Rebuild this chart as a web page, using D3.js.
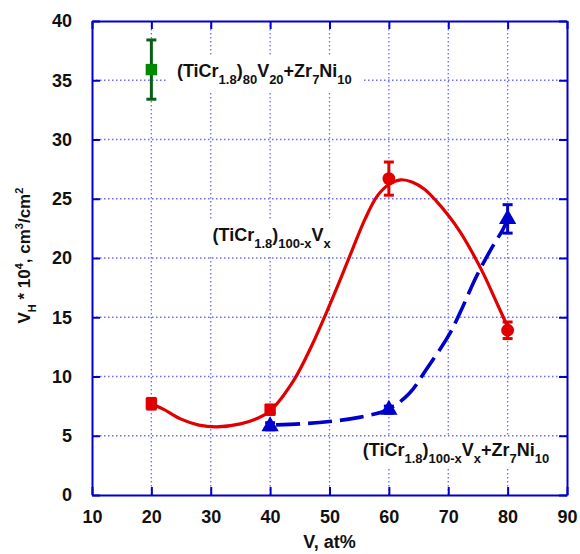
<!DOCTYPE html>
<html>
<head>
<meta charset="utf-8">
<script src="https://cdn.jsdelivr.net/npm/d3@7"></script>
<style>
  body { margin: 0; background: #fff; }
  svg text { font-family: "Liberation Sans", Arial, sans-serif; font-weight: bold; }
</style>
</head>
<body>
<div id="chart"></div>
<script>
// tick values
const xTicks = [10, 20, 30, 40, 50, 60, 70, 80, 90]
const yTicks = [0, 5, 10, 15, 20, 25, 30, 35, 40]

// measured points (value, +/- error)
const redX = [20, 40, 60, 80]
const redY = [7.7, 7.2, 26.7, 13.9]
const redErr = [0.45, 0.4, 1.4, 0.7]

const blueX = [40, 60, 80]
const blueY = [5.8, 7.2, 23.3]
const blueErr = [0.3, 0.3, 1.2]

const greenX = [20]
const greenY = [35.9]
const greenErr = [2.5]

// fitted curves
const redFitX = [20, 22, 25, 28, 31, 35, 38, 40, 44, 47, 50, 52, 54, 56, 58, 60, 62, 64, 66, 68, 70, 72, 74, 76, 78, 80]
const redFitY = [7.7, 7.25, 6.4, 5.9, 5.75, 6.0, 6.5, 7.1, 9.7, 12.6, 16.0, 18.4, 20.9, 23.3, 25.2, 26.2, 26.6, 26.4, 25.8, 24.8, 23.6, 22.2, 20.5, 18.6, 16.4, 14.2]
const blueFitX = [40, 45, 50, 55, 60, 63.5, 66.3, 70, 72, 74.7, 77.5, 79.2, 80]
const blueFitY = [5.9, 6.0, 6.2, 6.55, 7.25, 8.6, 10.6, 13.4, 15.4, 18.4, 21.0, 22.4, 23.3]

const W = 580, H = 554
const margin = {top: 21, right: 13, bottom: 59, left: 92}
const width = W - margin.left - margin.right
const height = H - margin.top - margin.bottom

const blue = "#0000cc", red = "#e00000", gridC = "#6a6aff"

const svg = d3.select("#chart").append("svg")
    .attr("width", W).attr("height", H)
  .append("g")
    .attr("transform", "translate(" + margin.left + "," + margin.top + ")")

const x = d3.scaleLinear().domain([10, 90]).range([0, width])
const y = d3.scaleLinear().domain([0, 40]).range([height, 0])

// dotted grid
const grid = svg.append("g")
grid.selectAll(".gx").data(xTicks.slice(1, -1)).enter().append("line")
  .attr("x1", d => x(d)).attr("x2", d => x(d)).attr("y1", 0).attr("y2", height)
grid.selectAll(".gy").data(yTicks.slice(1, -1)).enter().append("line")
  .attr("y1", d => y(d)).attr("y2", d => y(d)).attr("x1", 0).attr("x2", width)
grid.selectAll("line")
  .attr("stroke", gridC).attr("stroke-width", 1.3).attr("stroke-dasharray", "1.5,2.5")

// labels with white boxes
function label(tx, ty, parts, pad) {
  const g = svg.append("g")
  const t = g.append("text").attr("x", tx).attr("y", ty).attr("fill", "#111")
  let shift = 0
  parts.forEach(p => {
    const off = p[1] === "sub" ? 7 : 0
    t.append("tspan").attr("dy", off - shift)
      .attr("font-size", p[1] === "sub" ? 13 : 18)
      .text(p[0])
    shift = off
  })
  const bb = t.node().getBBox()
  g.insert("rect", "text")
    .attr("x", bb.x - pad[0]).attr("y", bb.y - pad[1])
    .attr("width", bb.width + pad[0] * 2).attr("height", bb.height + pad[1] * 2)
    .attr("fill", "#fff")
}

label(x(24.3), y(35.9) + 7,
  [["(TiCr"], ["1.8", "sub"], [")"], ["80", "sub"], ["V"], ["20", "sub"], ["+Zr"], ["7", "sub"], ["Ni"], ["10", "sub"]], [10, 5])
label(x(30.3), y(21.9) + 6,
  [["(TiCr"], ["1.8", "sub"], [")"], ["100-x", "sub"], ["V"], ["x", "sub"]], [6, 5])
label(x(55.6), y(3.8) + 6,
  [["(TiCr"], ["1.8", "sub"], [")"], ["100-x", "sub"], ["V"], ["x", "sub"], ["+Zr"], ["7", "sub"], ["Ni"], ["10", "sub"]], [10, 3])

// fitted curves
const line = d3.line().curve(d3.curveCatmullRom.alpha(0.5))
svg.append("path")
  .attr("d", line(redFitX.map((d, i) => [x(d), y(redFitY[i])])))
  .attr("fill", "none").attr("stroke", red).attr("stroke-width", 3.2)
svg.append("path")
  .attr("d", line(blueFitX.map((d, i) => [x(d), y(blueFitY[i])])))
  .attr("fill", "none").attr("stroke", blue).attr("stroke-width", 3.6)
  .attr("stroke-dasharray", "24,8").attr("stroke-dashoffset", -6)

// error bars + markers
function series(xs, ys, errs, color, barColor, shapeFn) {
  const g = svg.append("g")
  xs.forEach((xv, i) => {
    const cx = x(xv), lo = y(ys[i] - errs[i]), hi = y(ys[i] + errs[i])
    g.append("line").attr("x1", cx).attr("x2", cx).attr("y1", lo).attr("y2", hi)
      .attr("stroke", barColor).attr("stroke-width", 3)
    ;[lo, hi].forEach(yy => g.append("line")
      .attr("x1", cx - 5).attr("x2", cx + 5).attr("y1", yy).attr("y2", yy)
      .attr("stroke", barColor).attr("stroke-width", 3))
    g.append("path")
      .attr("d", d3.symbol().type(shapeFn(i)).size(130)())
      .attr("transform", "translate(" + cx + "," + y(ys[i]) + ")")
      .attr("fill", color)
  })
}
series(redX, redY, redErr, red, red, i => i < 2 ? d3.symbolSquare : d3.symbolCircle)
series(blueX, blueY, blueErr, blue, blue, () => d3.symbolTriangle)
series(greenX, greenY, greenErr, "#008a00", "#0b5e17", () => d3.symbolSquare)

// axes frame with inward ticks
function styleAxis(g) {
  g.select(".domain").attr("stroke", blue).attr("stroke-width", 2)
  g.selectAll(".tick line").attr("stroke", blue).attr("stroke-width", 2)
  g.selectAll(".tick text").attr("fill", "#111").attr("font-size", 18)
}
svg.append("g").attr("transform", "translate(0," + height + ")")
  .call(d3.axisBottom(x).tickValues(xTicks).tickSize(-8).tickSizeOuter(0).tickPadding(15))
  .call(styleAxis)
svg.append("g")
  .call(d3.axisTop(x).tickValues(xTicks).tickSize(-8).tickSizeOuter(0).tickFormat(""))
  .call(styleAxis)
svg.append("g")
  .call(d3.axisLeft(y).tickValues(yTicks).tickSize(-8).tickSizeOuter(0).tickPadding(20))
  .call(styleAxis)
svg.append("g").attr("transform", "translate(" + width + ",0)")
  .call(d3.axisRight(y).tickValues(yTicks).tickSize(-8).tickSizeOuter(0).tickFormat(""))
  .call(styleAxis)

// axis titles
svg.append("text")
  .attr("x", x(50)).attr("y", height + 53)
  .attr("text-anchor", "middle").attr("font-size", 18).attr("fill", "#111")
  .text("V, at%")

const yt = svg.append("text")
  .attr("transform", "translate(" + (-62) + "," + y(20.2) + ") rotate(-90)")
  .attr("text-anchor", "middle").attr("font-size", 17).attr("fill", "#111")
const ytParts = [["V", 0], ["H", 6], [" * 10", 0], ["4", -7], [", cm", 0], ["3", -7], ["/cm", 0], ["2", -7]]
let prev = 0
ytParts.forEach(p => {
  yt.append("tspan").attr("dy", p[1] - prev)
    .attr("font-size", p[1] === 0 ? 17 : 11).text(p[0])
  prev = p[1]
})
</script>
</body>
</html>
